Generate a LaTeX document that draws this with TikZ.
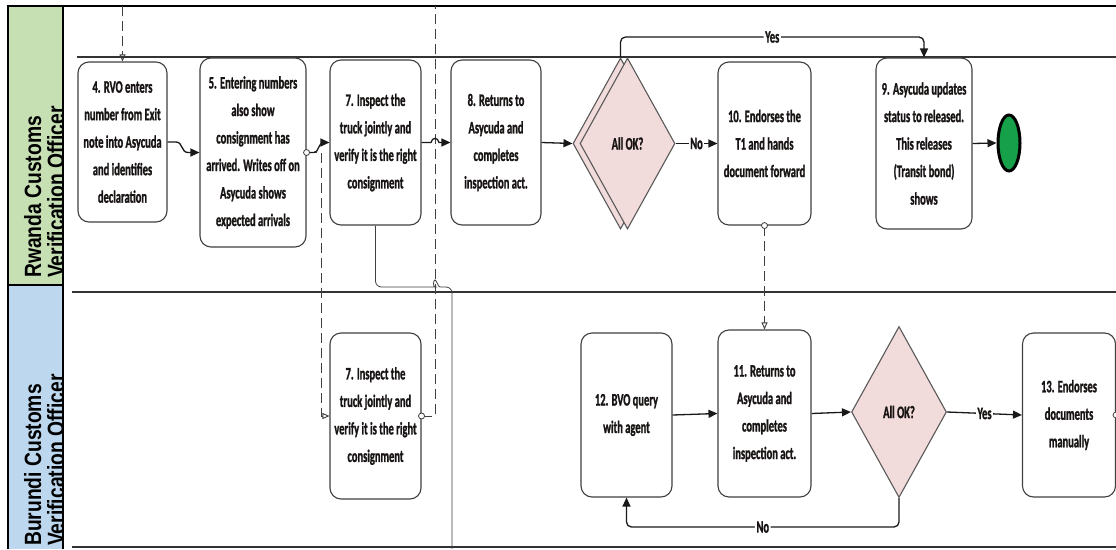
\documentclass[tikz,border=0pt]{standalone}
\usepackage{fontspec}
\usetikzlibrary{shapes.geometric,arrows.meta}
\newfontfamily\boxfontfam[FakeStretch=0.6,FakeBold=1.2]{Carlito Bold}
\newfontfamily\headfontfam[FakeStretch=0.82]{Liberation Sans Bold}
\newcommand\boxfont{\boxfontfam\fontsize{17.5}{27.5}\selectfont}
\newcommand\headfont{\headfontfam\fontsize{23.5}{23}\selectfont}
\definecolor{lanegreen}{RGB}{198,224,180}
\definecolor{laneblue}{RGB}{189,215,238}
\definecolor{gatepink}{RGB}{242,220,219}
\definecolor{endgreen}{RGB}{22,160,74}
\definecolor{ink}{RGB}{25,20,20}
\tikzset{
  task/.style={draw=black!75, line width=1.1pt, rounded corners=11pt, fill=white,
    align=center, font=\boxfont, text=ink, inner sep=1pt},
  gate/.style={diamond, draw=black!65, fill=gatepink, line width=1.1pt,
    font=\boxfont, text=ink, inner sep=0pt, minimum width=95pt, minimum height=171pt},
  seq/.style={line width=1.3pt, draw=black!90, -{Triangle[length=9pt,width=8pt]}},
  thinflow/.style={line width=0.8pt, draw=black!75},
  msg/.style={line width=0.9pt, draw=black!75, dash pattern=on 10pt off 5pt},
  msgtip/.style={-{Triangle[open,length=7pt,width=6pt]}},
  msgdot/.style={circle, draw=black!75, fill=white, line width=0.8pt,
    minimum size=6pt, inner sep=0pt},
  flowlabel/.style={fill=white, inner sep=1.5pt, font=\boxfont, text=ink},
  headtext/.style={rotate=90, align=left, inner sep=0pt, font=\headfont,
    anchor=north west},
  laneline/.style={line width=1.6pt, draw=black!80},
}
\begin{document}
\begin{tikzpicture}[x=1pt,y=-1pt]
% canvas
\useasboundingbox (0,0) rectangle (1116,549);
\fill[white] (0,0) rectangle (1116,549);

% lane headers
\fill[lanegreen] (8,6) rectangle (63,285);
\fill[laneblue] (8,285) rectangle (63,549);
\begin{scope}
  \clip (8,6) rectangle (63,285);
  \node[headtext] (hdrR) at (24,278) {Rwanda Customs\\Verification Officer};
\end{scope}
\begin{scope}
  \clip (8,285) rectangle (63,549);
  \node[headtext] (hdrB) at (24,546) {Burundi Customs\\Verification Officer};
\end{scope}
\draw[line width=1.2pt] (63,6) -- (63,549);
\draw[line width=1.2pt] (8,285) -- (63,285);
\draw[line width=2.2pt] (8,549) -- (8,6) -- (1116,6);

% lane separators
\draw[laneline] (77,57) -- (1116,57);
\draw[laneline] (72,292) -- (1116,292);
\draw[laneline] (72,547) -- (1116,547);

% Rwanda lane tasks
\node[task, minimum width=89pt, minimum height=160pt] (n4) at (122.5,142)
  {4. RVO enters\\number from Exit\\note into Asycuda\\and identifies\\declaration};
\node[task, minimum width=106pt, minimum height=189pt] (n5) at (253,152.5)
  {5. Entering numbers\\also show\\consignment has\\arrived. Writes off on\\Asycuda shows\\expected arrivals};
\node[task, minimum width=91pt, minimum height=165pt] (n7a) at (375.5,142.5)
  {7. Inspect the\\truck jointly and\\verify it is the right\\consignment};
\node[task, minimum width=90pt, minimum height=165pt] (n8) at (496,142.5)
  {8. Returns to\\Asycuda and\\completes\\inspection act.};
\node[gate] (d1b) at (620.5,143.5) {};
\node[gate] (d1) at (627.5,143.5) {All OK?};
\node[task, minimum width=93pt, minimum height=163pt] (n10) at (764.5,143.5)
  {10. Endorses the\\T1 and hands\\document forward};
\node[task, minimum width=96pt, minimum height=171pt] (n9) at (924,143.5)
  {9. Asycuda updates\\status to released.\\This releases\\(Transit bond)\\shows};
\node[ellipse, draw=black, line width=3pt, fill=endgreen,
      minimum width=22pt, minimum height=56pt, inner sep=0pt] (endR) at (1009,143) {};

% Burundi lane tasks
\node[task, minimum width=91pt, minimum height=166pt] (n7b) at (375.5,416)
  {7. Inspect the\\truck jointly and\\verify it is the right\\consignment};
\node[task, minimum width=91pt, minimum height=164pt] (n12) at (626.5,415)
  {12. BVO query\\with agent};
\node[task, minimum width=93pt, minimum height=167pt] (n11) at (764.5,413.5)
  {11. Returns to\\Asycuda and\\completes\\inspection act.};
\node[gate] (d2) at (899,412) {All OK?};
\node[task, minimum width=93pt, minimum height=164pt] (n13) at (1069,415)
  {13. Endorses\\documents\\manually};

% helper points
\coordinate (inTop) at (122.5,6);
\coordinate (m7b) at (321,416);
\coordinate (outTop) at (435,6);
\coordinate (outBot) at (452,549);

% message flows
\draw[msg, msgtip] (inTop) -- (n4.north);
\draw[msg, msgtip] (n5.east) -| (m7b) -- (n7b.west);
\draw[msg] (n7b.east) -- (435,416) -- (outTop);
\node[msgdot] (dot7b) at (n7b.east) {};
\draw[msg, msgtip] (n10.south) -- (n11.north);
\node[msgdot] (dot10) at (n10.south) {};
\node[msgdot] (dot13) at (n13.east) {};

% sequence flows, Rwanda lane
\draw[seq] (n4.east) -- (176,142) .. controls (183,142) and (181,152.5) .. (188,152.5) -- (n5.west);
\draw[seq] (n5.east) -- (314,152.5) .. controls (319,152.5) and (318,142.5) .. (324,142.5) -- (n7a.west);
\node[msgdot] (dot5) at (n5.east) {};
\draw[seq] (n7a.east) -- (431,142.5) .. controls (432,137) and (438,137) .. (439,142.5) -- (n8.west);
\draw[thinflow] (n7a.south) [rounded corners=6pt] |- (430,287) [sharp corners]
  .. controls (432,287) and (433.5,280) .. (435,280)
  .. controls (436.5,280) and (438,287) .. (440,287)
  [rounded corners=6pt] -- (452,287) -- (outBot);
\draw[seq] (n8.east) -- (d1b.west);
\draw[seq] (d1.east) -- node[flowlabel] (lblNo1) {No} (n10.west);
\draw[seq, rounded corners=5pt] (d1b.north) -- (620.5,37) -- node[flowlabel, pos=0.5] (lblYes1) {Yes} (924,37) -- (n9.north);
\draw[seq] (n9.east) -- (endR.west);

% sequence flows, Burundi lane
\draw[seq] (n12.east) -- (n11.west);
\draw[seq] (n11.east) -- (d2.west);
\draw[seq] (d2.east) -- node[flowlabel] (lblYes2) {Yes} (n13.west);
\draw[seq, rounded corners=5pt] (d2.south) -- (899,527) -- node[flowlabel] (lblNo2) {No} (626.5,527) -- (n12.south);
\end{tikzpicture}
\end{document}
